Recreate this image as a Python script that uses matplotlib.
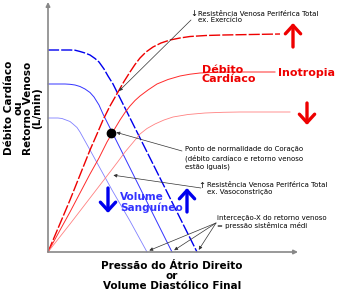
import matplotlib
matplotlib.use("Agg")
import matplotlib.pyplot as plt

# curves (arbitrary units, origin at the axes corner)
vr_high_x = [0, 22, 27, 32, 37, 42, 47, 51, 56, 60, 65, 69, 89, 109, 129, 149]
vr_high_y = [202, 202, 201.8, 200.5, 199, 197, 193.5, 190, 183, 176, 168, 160, 120, 80, 40, 0]
vr_norm_x = [0, 17, 22, 27, 32, 37, 42, 46, 51, 55, 59, 63, 83, 103, 124]
vr_norm_y = [168, 168, 167.7, 167, 165.5, 163, 159.5, 155, 147, 138, 130, 122, 82, 42, 0]
vr_low_x = [0, 10, 14, 18, 22, 25, 29, 32, 37, 42, 64, 82, 99]
vr_low_y = [134, 134, 133.5, 132, 130.5, 128, 124.5, 120, 111, 102, 62, 31, 0]

co_high_x = [0, 22, 42, 49, 55, 62, 70, 76, 82, 87, 92, 98, 105, 113, 122, 132, 142, 158, 175, 232]
co_high_y = [0, 52, 102, 118, 132, 146, 160, 170.5, 180, 187.5, 194, 200, 205, 209, 212, 214,
             215.5, 216.5, 217, 218]
co_norm_x = [0, 22, 42, 51, 59, 66, 72, 77, 82, 87, 92, 100, 109, 120, 132, 142, 152, 170, 192, 227]
co_norm_y = [0, 40, 78, 94, 110, 122, 132, 139.5, 146, 151.5, 156, 162, 168, 172.5, 176, 177.8,
             179, 179.8, 180, 180]
co_low_x = [0, 22, 42, 62, 70, 77, 85, 92, 99, 107, 116, 125, 140, 157, 175, 192, 242]
co_low_y = [0, 28, 54, 80, 90.5, 100, 109.5, 118, 123.5, 128, 132, 135, 137.5, 139, 139.7, 140, 140]

normal_point = (63, 119)
intercepts_x = [99, 124, 149]

W, H = 337, 292
fig = plt.figure(figsize=(W / 100, H / 100), dpi=100)
ax = fig.add_axes([48 / W, 40 / H, 250 / W, 250 / H])
ax.set_xlim(0, 250)
ax.set_ylim(0, 250)
ax.axis('off')

# axes with arrow heads
ax.annotate('', xy=(0, 250), xytext=(0, 0),
            arrowprops=dict(arrowstyle='-|>', color='#888888', lw=1.2, mutation_scale=6,
                            shrinkA=0, shrinkB=0), annotation_clip=False)
ax.annotate('', xy=(250, 0), xytext=(0, 0),
            arrowprops=dict(arrowstyle='-|>', color='#888888', lw=1.2, mutation_scale=6,
                            shrinkA=0, shrinkB=0), annotation_clip=False)

# venous return
ax.plot(vr_high_x, vr_high_y, color='#0000ee', lw=1.0, dashes=(8, 1.5), clip_on=False)
ax.plot(vr_norm_x, vr_norm_y, color='#3333ff', lw=0.7, clip_on=False)
ax.plot(vr_low_x, vr_low_y, color='#8080ff', lw=0.6, clip_on=False)

# cardiac output
ax.plot(co_high_x, co_high_y, color='#ee0000', lw=1.0, dashes=(8, 1.5), clip_on=False)
ax.plot(co_norm_x, co_norm_y, color='#ff2a2a', lw=0.7, clip_on=False)
ax.plot(co_low_x, co_low_y, color='#ff8080', lw=0.6, clip_on=False)

ax.plot(*normal_point, 'o', color='black', ms=6, zorder=5)

small = 5
arrow_kw = dict(arrowstyle='-|>', color='#333333', lw=0.5, mutation_scale=5, shrinkA=0, shrinkB=1)

# exercise
ax.text(146, 239, u'\u2193', fontsize=6, ha='center', va='center')
ax.text(150, 241, u'Resistência Venosa Periférica Total\nex. Exercício', fontsize=small,
        va='top', ha='left', linespacing=1.1)
ax.annotate('', xy=(70, 160), xytext=(143, 232), arrowprops=arrow_kw)

# normal point
ax.text(137, 94, u'Ponto de normalidade do Coração\n(débito cardíaco e retorno venoso\nestão iguais)',
        fontsize=small, va='center', ha='left', linespacing=1.3)
ax.annotate('', xy=(67, 120), xytext=(134, 101), arrowprops=arrow_kw)

# vasoconstriction
ax.text(154, 66, u'\u2191', fontsize=6, ha='center', va='center')
ax.text(159, 63.5, u'Resistência Venosa Periférica Total\nex. Vasoconstrição', fontsize=small,
        va='center', ha='left', linespacing=1.1)
ax.annotate('', xy=(64, 77), xytext=(153, 64), arrowprops=arrow_kw)

# x intercepts
ax.text(169, 30, u'interceção-X do retorno venoso\n= pressão sistêmica médi', fontsize=small,
        va='center', ha='left', linespacing=1.1)
for xi in intercepts_x:
    ax.annotate('', xy=(xi + 1, 1), xytext=(168, 29), arrowprops=arrow_kw)

# labels on curves
ax.text(154, 177.5, u'Débito\nCardíaco', color='#ee0000', fontsize=8, fontweight='bold',
        va='center', ha='left', linespacing=0.95)
ax.text(230, 179, 'Inotropia', color='#ee0000', fontsize=8, fontweight='bold',
        va='center', ha='left')
ax.text(72, 49.5, u'Volume\nSanguíneo', color='#3333ff', fontsize=7.6, fontweight='bold',
        va='center', ha='left', linespacing=0.95)

# big arrows
def big_arrow(x, y0, y1, color):
    ax.annotate('', xy=(x, y1), xytext=(x, y0), annotation_clip=False,
                arrowprops=dict(arrowstyle='->,head_length=0.6,head_width=0.55', color=color,
                                lw=2.4, mutation_scale=10, shrinkA=0, shrinkB=0))

big_arrow(245, 205, 229, '#ee0000')
big_arrow(259, 149, 127, '#ee0000')
big_arrow(60, 64, 39, '#0000ee')
big_arrow(139, 40, 64, '#0000ee')

fig.text(172 / W, 1 - 276 / H, u'Pressão do Átrio Direito\nor\nVolume Diastólico Final',
         fontsize=7.5, fontweight='bold', ha='center', va='center', linespacing=1.0)
fig.text(23 / W, 1 - 108 / H, u'Débito Cardíaco\nou\nRetorno Venoso\n(L/min)',
         fontsize=7.5, fontweight='bold', ha='center', va='center', rotation=90, linespacing=0.95)

fig.savefig('out.png', dpi=100)
